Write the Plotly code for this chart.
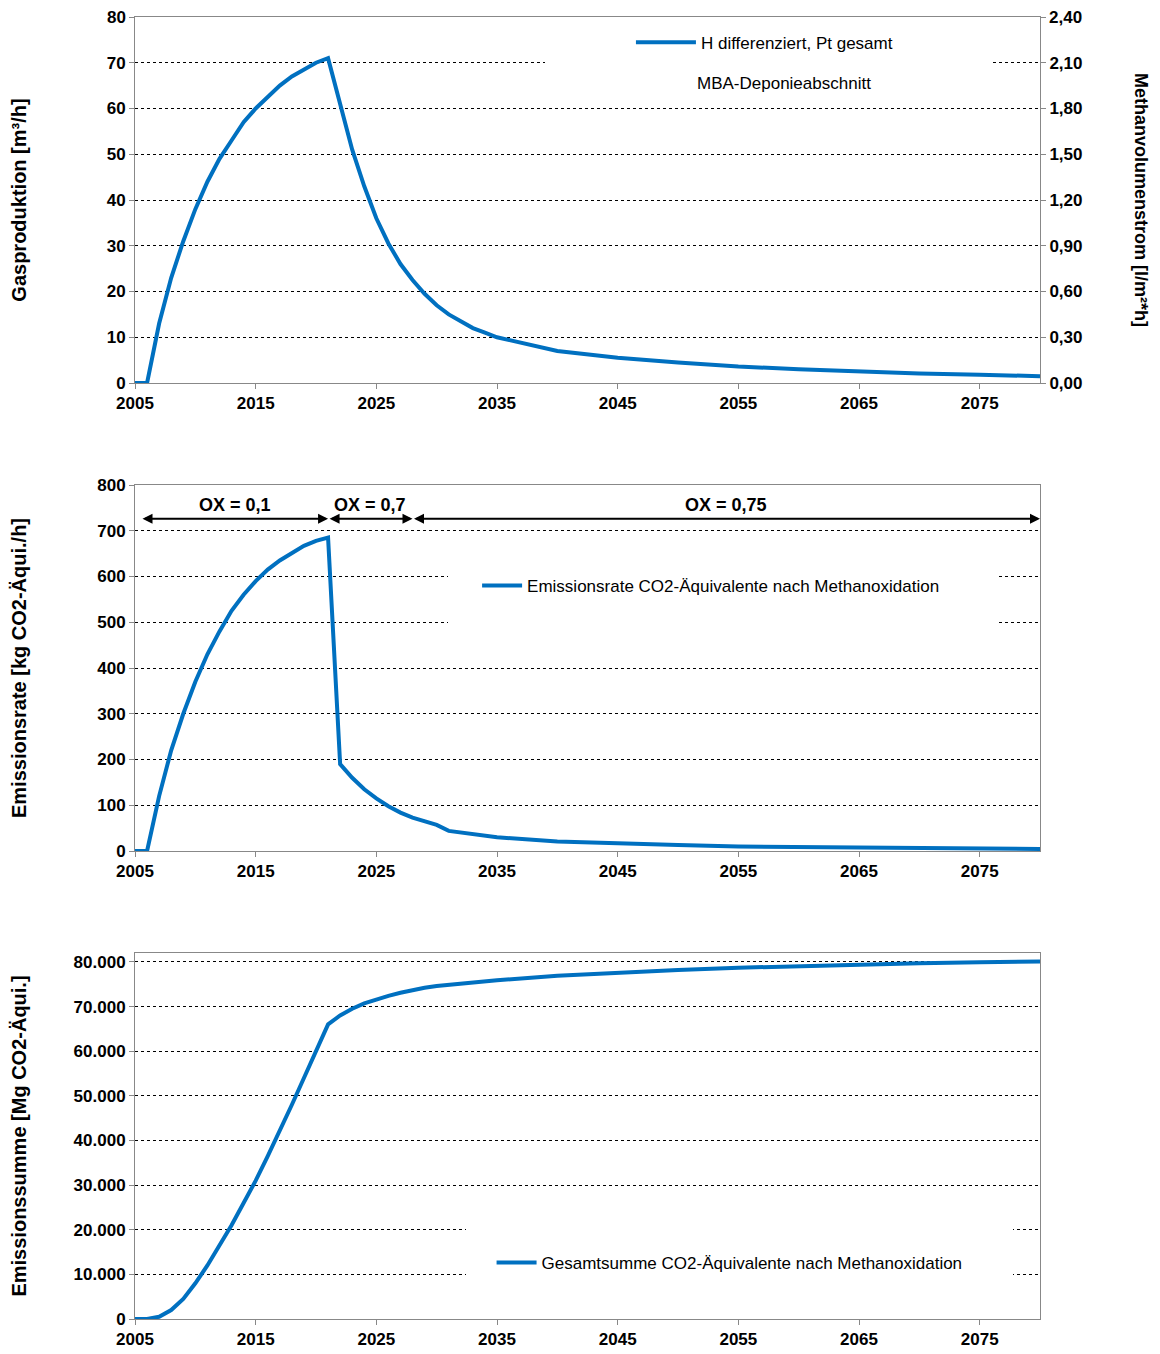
import plotly.graph_objects as go

years = list(range(2005, 2036)) + [2040, 2045, 2050, 2055, 2060, 2065, 2070, 2075, 2080]

gas = [0, 0, 13, 23, 31, 38, 44, 49, 53, 57, 60, 62.5, 65, 67, 68.5, 70, 71,
       61, 51, 43, 36, 30.5, 26, 22.5, 19.5, 17, 15, 13.5, 12, 11, 10,
       7, 5.5, 4.5, 3.6, 3.0, 2.5, 2.1, 1.8, 1.5]

rate = [0, 0, 120, 220, 300, 370, 430, 480, 525, 560, 590, 615, 635, 652, 667, 678, 685,
        190, 160, 135, 115, 98, 84, 73, 64, 57, 44, 40, 36, 33, 30,
        21, 16, 13, 10, 8.5, 7, 6, 5, 4.5]

summe = [0, 0, 500, 2000, 4500, 8000, 12000, 16500, 21000, 26000, 31000, 36500, 42000,
         48000, 54000, 60000, 66000, 68000, 69500, 70700, 71600, 72400, 73100, 73700,
         74200, 74600, 74900, 75200, 75500, 75700, 75900,
         76900, 77600, 78200, 78700, 79100, 79400, 79700, 79900, 80100]

ox_labels = ["OX = 0,1", "OX = 0,7", "OX = 0,75"]
ox_bounds = [2005.5, 2021, 2028, 2080]

blue = "#0070C0"
font = dict(family="Liberation Sans, Arial", size=17, color="black")
tfont = dict(family="Liberation Sans, Arial", size=17, color="black", weight="bold")
H = 1302
fig = go.Figure()

fig.add_trace(go.Scatter(x=years, y=gas, mode="lines", line=dict(color=blue, width=4),
                         name="H differenziert, Pt gesamt", xaxis="x", yaxis="y", legend="legend"))
fig.add_trace(go.Scatter(x=[2005, 2080], y=[0, 2.4], mode="lines", line=dict(width=0),
                         showlegend=False, hoverinfo="skip", xaxis="x", yaxis="y2"))
fig.add_trace(go.Scatter(x=years, y=rate, mode="lines", line=dict(color=blue, width=4),
                         name="Emissionsrate CO2-Äquivalente nach Methanoxidation",
                         xaxis="x3", yaxis="y3", legend="legend2"))
fig.add_trace(go.Scatter(x=years, y=summe, mode="lines", line=dict(color=blue, width=4),
                         name="Gesamtsumme CO2-Äquivalente nach Methanoxidation",
                         xaxis="x4", yaxis="y4", legend="legend3"))

xax = dict(range=[2005, 2080], tickvals=list(range(2005, 2080, 10)), showgrid=False,
           showline=True, linecolor="#888888", mirror=True, ticks="outside", ticklen=5,
           tickcolor="#888888", tickfont=tfont, zeroline=False, automargin=False)
yax = dict(showgrid=True, gridcolor="black", griddash="dot", gridwidth=1, showline=True,
           linecolor="#888888", mirror=True, ticks="outside", ticklen=5, tickcolor="#888888",
           tickfont=tfont, zeroline=False, automargin=False)

d1 = [(1319 - 383) / H, 1]
d2 = [(1319 - 851) / H, (1319 - 485) / H]
d3 = [0, (1319 - 953) / H]

fig.update_layout(
    width=1160, height=1354, plot_bgcolor="white", paper_bgcolor="white",
    margin=dict(l=127, r=128, t=9, b=43), font=font, separators=",.",
    xaxis=dict(xax, domain=[0, 1], anchor="y"),
    yaxis=dict(yax, domain=d1, range=[0, 80], dtick=10,
               title=dict(text="<b>Gasproduktion [m³/h]</b>", standoff=81)),
    yaxis2=dict(overlaying="y", side="right", range=[0, 2.4], dtick=0.3, tickformat=".2f",
                showgrid=False, ticks="outside", ticklen=5, tickcolor="#888888",
                tickfont=tfont, zeroline=False, anchor="x", automargin=False),
    xaxis3=dict(xax, anchor="y3"),
    yaxis3=dict(yax, domain=d2, range=[0, 800], dtick=100,
                title=dict(text="<b>Emissionsrate [kg CO2-Äqui./h]</b>", standoff=73)),
    xaxis4=dict(xax, anchor="y4"),
    yaxis4=dict(yax, domain=d3, range=[0, 82000], tickvals=list(range(0, 80001, 10000)),
                tickformat=",d",
                title=dict(text="<b>Emissionssumme [Mg CO2-Äqui.]</b>", standoff=50)),
    legend=dict(x=0.548, y=0.994, xanchor="left", yanchor="top", bgcolor="rgba(0,0,0,0)",
                font=dict(size=17), itemwidth=60),
    legend2=dict(x=0.378, y=0.563, xanchor="left", yanchor="middle", bgcolor="rgba(0,0,0,0)",
                 font=dict(size=17), itemwidth=40),
    legend3=dict(x=0.394, y=0.043, xanchor="left", yanchor="middle", bgcolor="rgba(0,0,0,0)",
                 font=dict(size=17), itemwidth=40),
)

# top tick labels of the first panel (dropped by plotly at the page edge)
fig.add_annotation(text="<b>80</b>", x=0, xref="paper", y=80, yref="y", xanchor="right",
                   xshift=-7, showarrow=False, font=dict(size=17))
fig.add_annotation(text="<b>2,40</b>", x=1, xref="paper", y=80, yref="y", xanchor="left",
                   xshift=7, showarrow=False, font=dict(size=17))

fig.add_annotation(text="<b>Methanvolumenstrom [l/m²*h]</b>", textangle=90,
                   x=(1141 - 135) / 905, xref="paper", y=40, yref="y",
                   xanchor="center", yanchor="middle",
                   showarrow=False, font=dict(size=18))

# white boxes that interrupt the gridlines behind the legends
fig.add_shape(type="rect", xref="paper", yref="y", x0=(545 - 135) / 905, x1=(993 - 135) / 905,
              y0=65, y1=76, fillcolor="white", line_width=0, layer="above")
fig.add_shape(type="rect", xref="paper", yref="y3", x0=(448 - 135) / 905, x1=(996 - 135) / 905,
              y0=470, y1=650, fillcolor="white", line_width=0, layer="above")
fig.add_shape(type="rect", xref="paper", yref="y4", x0=(466 - 135) / 905, x1=(1013 - 135) / 905,
              y0=5000, y1=25000, fillcolor="white", line_width=0, layer="above")

fig.add_annotation(text="MBA-Deponieabschnitt", x=(695 - 135) / 905, xref="paper", y=65.5,
                   yref="y", xanchor="left", showarrow=False, font=dict(size=17))

for i, lab in enumerate(ox_labels):
    a, b = ox_bounds[i], ox_bounds[i + 1]
    fig.add_annotation(x=b, y=726, ax=a, ay=726, xref="x3", yref="y3", axref="x3", ayref="y3",
                       text="", showarrow=True, arrowhead=2, arrowside="end+start",
                       arrowwidth=2, arrowsize=1, arrowcolor="black")
    fig.add_annotation(x=(a + b) / 2, y=726, xref="x3", yref="y3", text="<b>" + lab + "</b>",
                       showarrow=False, yanchor="bottom", yshift=2, font=dict(size=18))

fig.write_html("out.html")
